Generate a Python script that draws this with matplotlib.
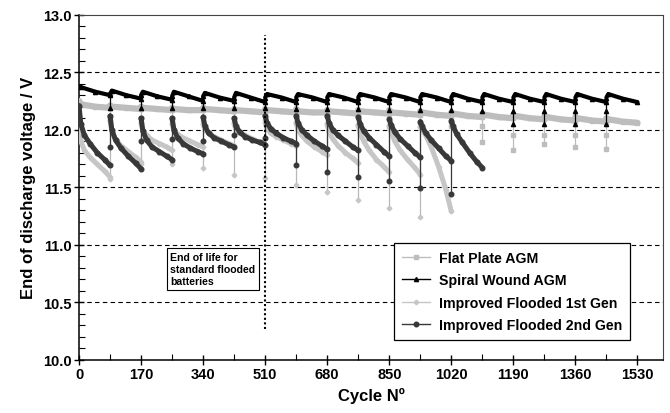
import numpy as np
import matplotlib
matplotlib.use("Agg")
from matplotlib import pyplot as plt
from matplotlib.lines import Line2D

plt.rcParams['font.family'] = ['Liberation Sans', 'DejaVu Sans']
plt.rcParams['font.weight'] = 'bold'

# check-up every 85 cycles -> segment start cycles
seg_start = [0, 85, 170, 255, 340, 425, 510, 595, 680, 765, 850, 935,
             1020, 1105, 1190, 1275, 1360, 1445]
agm_off = [0, 5, 45, 85]                 # cycles into each segment (AGM)
flo_off = [0, 5, 15, 30, 50, 70, 85]     # cycles into each segment (flooded)

# Flat Plate AGM
fp_v = [[12.25, 12.22, 12.20, 12.19], [12.21, 12.20, 12.19, 12.18],
        [12.20, 12.19, 12.18, 12.17], [12.19, 12.18, 12.17, 12.17],
        [12.19, 12.18, 12.17, 12.16], [12.18, 12.17, 12.16, 12.15],
        [12.18, 12.17, 12.16, 12.15], [12.18, 12.16, 12.15, 12.15],
        [12.17, 12.16, 12.15, 12.14], [12.17, 12.16, 12.15, 12.14],
        [12.17, 12.15, 12.14, 12.13], [12.16, 12.15, 12.13, 12.12],
        [12.15, 12.14, 12.12, 12.11], [12.14, 12.13, 12.11, 12.10],
        [12.13, 12.12, 12.10, 12.09], [12.12, 12.11, 12.09, 12.08],
        [12.11, 12.10, 12.08, 12.07], [12.10, 12.09, 12.07, 12.06]]
fp_chk_cyc = [85, 170, 255, 340, 425, 510, 595, 680, 765, 850, 935, 1020,
              1105, 1105, 1190, 1190, 1275, 1275, 1360, 1360, 1445, 1445]
fp_chk_v = [12.10, 12.10, 12.09, 12.09, 12.08, 12.08, 12.06, 12.05, 12.04,
            12.03, 12.03, 12.03, 12.03, 11.89, 11.95, 11.82, 11.95, 11.88,
            11.95, 11.85, 11.95, 11.83]

# Spiral Wound AGM
sw_v = [[12.38, 12.37, 12.33, 12.30], [12.31, 12.34, 12.30, 12.27],
        [12.30, 12.33, 12.29, 12.26], [12.29, 12.33, 12.29, 12.25],
        [12.29, 12.32, 12.28, 12.25], [12.28, 12.32, 12.28, 12.24],
        [12.28, 12.31, 12.28, 12.24], [12.28, 12.31, 12.28, 12.24],
        [12.28, 12.31, 12.28, 12.24], [12.28, 12.31, 12.28, 12.24],
        [12.28, 12.31, 12.28, 12.24], [12.28, 12.31, 12.28, 12.24],
        [12.28, 12.31, 12.27, 12.24], [12.28, 12.31, 12.27, 12.24],
        [12.28, 12.31, 12.27, 12.24], [12.28, 12.31, 12.27, 12.24],
        [12.28, 12.31, 12.27, 12.24], [12.28, 12.31, 12.27, 12.24]]
sw_chk_cyc = [85, 170, 255, 340, 425, 510, 595, 680, 765, 850, 935, 1020,
              1105, 1190, 1190, 1275, 1275, 1360, 1360, 1445, 1445]
sw_chk_v = [12.19, 12.19, 12.19, 12.19, 12.19, 12.19, 12.18, 12.18, 12.18,
            12.17, 12.17, 12.17, 12.16, 12.16, 12.05, 12.16, 12.05, 12.16,
            12.05, 12.16, 12.05]

# Improved Flooded 1st Gen
g1_v = [[12.00, 11.90, 11.82, 11.76, 11.70, 11.64, 11.59],
        [12.08, 11.98, 11.92, 11.86, 11.81, 11.76, 11.72],
        [12.06, 11.99, 11.95, 11.91, 11.88, 11.85, 11.82],
        [12.05, 11.99, 11.96, 11.93, 11.90, 11.87, 11.85],
        [12.05, 12.00, 11.97, 11.94, 11.91, 11.88, 11.86],
        [12.05, 12.00, 11.97, 11.95, 11.92, 11.89, 11.87],
        [12.06, 12.01, 11.97, 11.94, 11.91, 11.88, 11.86],
        [12.06, 12.00, 11.95, 11.90, 11.85, 11.81, 11.78],
        [12.05, 11.98, 11.92, 11.86, 11.80, 11.75, 11.71],
        [12.04, 11.97, 11.90, 11.82, 11.74, 11.68, 11.63],
        [12.03, 11.98, 11.90, 11.82, 11.74, 11.67, 11.61],
        [12.02, 12.00, 11.95, 11.85, 11.68, 11.48, 11.29]]
g1_chk_cyc = [85, 170, 255, 340, 425, 510, 595, 680, 765, 850, 935]
g1_chk_v = [11.57, 11.70, 11.70, 11.67, 11.61, 11.58, 11.52, 11.46, 11.39,
            11.32, 11.24]

# Improved Flooded 2nd Gen
g2_v = [[12.21, 12.05, 11.95, 11.88, 11.80, 11.74, 11.69],
        [12.12, 12.00, 11.91, 11.84, 11.77, 11.71, 11.66],
        [12.10, 11.99, 11.91, 11.85, 11.81, 11.77, 11.74],
        [12.10, 12.00, 11.93, 11.88, 11.84, 11.81, 11.79],
        [12.11, 12.03, 11.97, 11.93, 11.90, 11.87, 11.85],
        [12.10, 12.03, 11.98, 11.94, 11.91, 11.89, 11.87],
        [12.12, 12.06, 12.01, 11.97, 11.93, 11.90, 11.88],
        [12.12, 12.06, 12.00, 11.95, 11.90, 11.86, 11.83],
        [12.12, 12.06, 12.00, 11.95, 11.90, 11.85, 11.82],
        [12.11, 12.05, 11.99, 11.93, 11.87, 11.81, 11.77],
        [12.09, 12.04, 11.98, 11.92, 11.86, 11.80, 11.76],
        [12.07, 12.03, 11.97, 11.91, 11.84, 11.77, 11.73],
        [12.08, 12.03, 11.96, 11.89, 11.80, 11.72, 11.67]]
g2_chk_cyc = [85, 170, 255, 340, 425, 510, 595, 680, 765, 850, 935, 1020]
g2_chk_v = [11.85, 11.90, 11.92, 11.90, 11.95, 11.93, 11.69, 11.63, 11.59,
            11.55, 11.49, 11.44]


def build(vals, off):
    xs, ys = [], []
    for s, v in zip(seg_start, vals):
        xs += [s + o for o in off] + [np.nan]
        ys += list(v) + [np.nan]
    return np.array(xs), np.array(ys)


fig = plt.figure(figsize=(6.7, 4.14), dpi=100)
ax = fig.add_axes([79 / 670, 1 - 360.7 / 414, 584 / 670, 345 / 414])

for gy in [10.5, 11.0, 11.5, 12.0, 12.5]:
    ax.axhline(gy, color='black', lw=0.8, ls=(0, (4, 3)), zorder=1)

# name, values, offsets, check cycles, check values, colour, drop colour, marker, ms, lw
series = [
    ("Flat Plate AGM", fp_v, agm_off, fp_chk_cyc, fp_chk_v, '#bdbdbd', '#bdbdbd', 's', 3.0, 4.5),
    ("Improved Flooded 1st Gen", g1_v, flo_off, g1_chk_cyc, g1_chk_v, '#c6c6c6', '#b8b8b8', 'D', 2.4, 3.6),
    ("Improved Flooded 2nd Gen", g2_v, flo_off, g2_chk_cyc, g2_chk_v, '#383838', '#383838', 'o', 3.3, 3.6),
    ("Spiral Wound AGM", sw_v, agm_off, sw_chk_cyc, sw_chk_v, '#000000', '#000000', '^', 3.0, 3.0),
]
handles = {}
for z, (name, vals, off, ccyc, cv, col, dcol, mk, ms, lw) in enumerate(series):
    xs, ys = build(vals, off)
    ccyc = np.array(ccyc)
    cv = np.array(cv)
    # thin check-up drops
    for c in np.unique(ccyc):
        top = np.nanmax(ys[xs == c])
        low = cv[ccyc == c].min()
        ax.plot([c, c], [low, top], color=dcol, lw=0.9, zorder=2 + z)
    ax.plot(ccyc, cv, ls='none', marker=mk, ms=ms, color=col, zorder=2 + z)
    ax.plot(xs, ys, color=col, lw=lw, marker=mk, ms=ms, zorder=3 + z,
            solid_capstyle='round', solid_joinstyle='round')
    handles[name] = Line2D([], [], color=col, lw=1.0, marker=mk, ms=ms)

# end of life marker
ax.plot([510, 510], [10.27, 12.82], color='black', lw=1.5, ls=(0, (1, 1.2)), zorder=8)
ax.text(250, 10.935, "End of life for\nstandard flooded\nbatteries", fontsize=7.6,
        fontweight='bold', va='top', ha='left', zorder=9, linespacing=1.25,
        bbox=dict(boxstyle='square,pad=0.35', fc='white', ec='black', lw=0.8))

order = ["Flat Plate AGM", "Spiral Wound AGM", "Improved Flooded 1st Gen",
         "Improved Flooded 2nd Gen"]
leg = ax.legend([handles[k] for k in order], order, loc='lower left',
                bbox_to_anchor=(0.532, 0.045), fancybox=False, framealpha=1,
                edgecolor='black', fontsize=10.2, handlelength=2.0,
                labelspacing=0.6, borderpad=0.55, handletextpad=0.6,
                borderaxespad=0.3)
leg.get_frame().set_linewidth(0.9)
leg.set_zorder(10)
for t in leg.get_texts():
    t.set_fontweight('bold')

ax.set_xlim(0, 1600)
ax.set_ylim(10, 13)
ax.set_xticks([0, 170, 340, 510, 680, 850, 1020, 1190, 1360, 1530])
ax.set_xticks(np.arange(85, 1600, 170), minor=True)
ax.set_yticks([10.0, 10.5, 11.0, 11.5, 12.0, 12.5, 13.0])
ax.set_yticks(np.arange(10.1, 13.0, 0.1), minor=True)
ax.set_yticklabels(['10.0', '10.5', '11.0', '11.5', '12.0', '12.5', '13.0'])
ax.tick_params(which='major', direction='inout', length=7, width=1, labelsize=10.5, pad=2)
ax.tick_params(which='minor', direction='in', length=4, width=0.8)
for lab in ax.get_xticklabels() + ax.get_yticklabels():
    lab.set_fontweight('bold')
for s in ['left', 'bottom']:
    ax.spines[s].set_linewidth(1.1)
for s in ['top', 'right']:
    ax.spines[s].set_linewidth(0.8)
    ax.spines[s].set_color('#444444')

ax.set_xlabel("Cycle Nº", fontsize=12, fontweight='bold', labelpad=4)
ax.set_ylabel("End of discharge voltage / V", fontsize=12, fontweight='bold', labelpad=5)

fig.savefig("out.png", dpi=100)
